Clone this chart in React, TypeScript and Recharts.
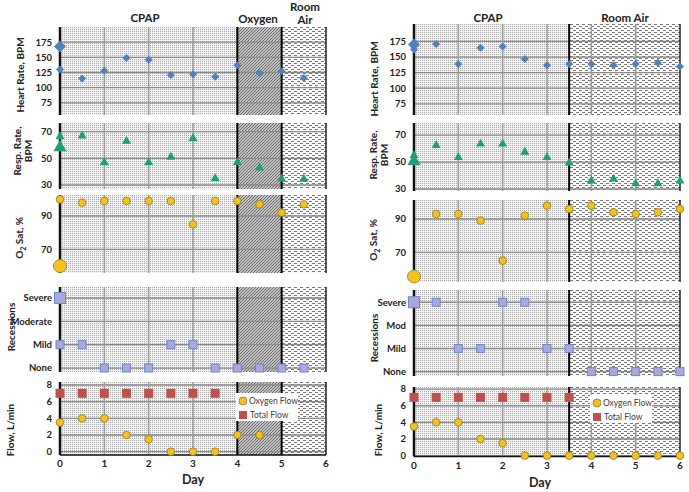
import React from "react";
import { ScatterChart, Scatter, XAxis, YAxis, ReferenceArea, ReferenceLine } from "recharts";

// days of observation
const DAYS_L = [0, 0.5, 1, 1.5, 2, 2.5, 3, 3.5, 4, 4.5, 5, 5.5];
const DAYS_R = [0, 0.5, 1, 1.5, 2, 2.5, 3, 3.5, 4, 4.5, 5, 5.5, 6];
const X_TICKS = [0, 1, 2, 3, 4, 5, 6];

// left patient
const HR_L = [130, 115, 128, 149, 146, 121, 122, 118, 137, 124, 127, 116];
const RR_L = [67, 67.5, 47.5, 63.5, 47.5, 51.5, 65.5, 35.5, 47.5, 43.5, 35, 35];
const O2_L = [100, 98, 99, 99, 99, 99, 85, 99, 99, 97, 92, 97];
const REC_L = [1, 1, 0, 0, 0, 1, 1, 0, 0, 0, 0, 0];
const O2FLOW_L = [3.5, 4, 4, 2, 1.5, 0, 0, 0, 2, 2];
const TOTAL_L = [7, 7, 7, 7, 7, 7, 7, 7];
// first (admission) readings, drawn larger
const HR0_L = [168];
const RR0_L = [59];
const O20_L = [60];
const REC0_L = [3];

// right patient
const HR_R = [162, 171, 139, 165, 167, 147, 137, 139, 139, 137, 139, 141, 135];
const RR_R = [55.5, 63, 54, 64, 64, 58, 54, 50, 36.5, 38, 34.5, 34.5, 36.5];
const O2_DAYS_R = DAYS_R.slice(1);
const O2_R = [93, 93, 89, 65, 92, 98, 96, 98, 94, 93, 94, 96];
const REC_R = [3, 3, 1, 1, 3, 3, 1, 1, 0, 0, 0, 0, 0];
const O2FLOW_R = [3.5, 4, 4, 2, 1.5, 0, 0, 0, 0, 0, 0, 0, 0];
const TOTAL_R = [7, 7, 7, 7, 7, 7, 7, 7];
const HR0_R = [170];
const RR0_R = [51.5];
const O20_R = [55.5];
const REC0_R = [3];

const REC_LABELS_L = ["None", "Mild", "Moderate", "Severe"];
const REC_LABELS_R = ["None", "Mild", "Mod", "Severe"];

// treatment phases: [from, to, pattern]
const PHASES_L: [number, number, string][] = [[0, 4, "cpapFill"], [4, 5, "oxyFill"], [5, 6, "airFill"]];
const PHASES_R: [number, number, string][] = [[0, 3.5, "cpapFill"], [3.5, 6, "airFill"]];
const BOUNDS_L = [4, 5];
const BOUNDS_R = [3.5];
const VGRID_L = [1, 2, 3];
const VGRID_R = [1, 2, 3, 4, 5];

const pts = (days: number[], vals: number[]) => vals.map((v, i) => ({ day: days[i], v }));

const FONT = "Lato, 'Open Sans', sans-serif";
const YW = 60;
const PW = 266;
const MT = 8;
const MR = 8;

const BLUE = "#4f81bd";
const GREEN = "#1f9e78";
const GOLD = "#f5c21b";
const LAV = "#a9a9de";
const RED = "#c0504d";

const diamond = (r: number) => (p: any) => (
  <polygon
    points={`${p.cx},${p.cy - r} ${p.cx + r},${p.cy} ${p.cx},${p.cy + r} ${p.cx - r},${p.cy}`}
    fill={BLUE}
  />
);
const triangle = (r: number) => (p: any) => (
  <polygon
    points={`${p.cx},${p.cy - r} ${p.cx + r},${p.cy + r * 0.75} ${p.cx - r},${p.cy + r * 0.75}`}
    fill={GREEN}
  />
);
const dot = (r: number) => (p: any) => (
  <circle cx={p.cx} cy={p.cy} r={r} fill={GOLD} stroke="#8a7a3a" strokeWidth={0.8} />
);
const lavSquare = (r: number) => (p: any) => (
  <rect x={p.cx - r} y={p.cy - r} width={2 * r} height={2 * r} fill={LAV} stroke="#6f86c9" strokeWidth={1} />
);
const redSquare = (r: number) => (p: any) => (
  <rect x={p.cx - r} y={p.cy - r} width={2 * r} height={2 * r} fill={RED} />
);

const tickStyle = { fontSize: 9.5, fontWeight: 700, fill: "#222", fontFamily: FONT };

function Row({
  pl,
  top,
  bottom,
  domain,
  ticks,
  fmt,
  phases,
  bounds,
  vgrid,
  showX,
  children,
}: {
  pl: number;
  top: number;
  bottom: number;
  domain: [number, number];
  ticks: number[];
  fmt?: (v: number) => string;
  phases: [number, number, string][];
  bounds: number[];
  vgrid: number[];
  showX?: boolean;
  children: React.ReactNode;
}) {
  const ph = bottom - top;
  const MB = showX ? 0 : 8;
  const XH = showX ? 26 : 0;
  return (
    <div style={{ position: "absolute", left: pl - YW, top: top - MT }}>
      <ScatterChart
        width={YW + PW + MR}
        height={MT + ph + MB + XH}
        margin={{ top: MT, right: MR, bottom: MB, left: 0 }}
      >
        <XAxis
          type="number"
          dataKey="day"
          domain={[0, 6]}
          ticks={X_TICKS}
          hide={!showX}
          height={XH}
          axisLine={{ stroke: "#111", strokeWidth: 1.5 }}
          tickLine={false}
          tickSize={3}
          tickMargin={2}
          tick={{ ...tickStyle, fontSize: 10 }}
        />
        <YAxis
          type="number"
          dataKey="v"
          domain={domain}
          ticks={ticks}
          width={YW}
          axisLine={false}
          tickLine={false}
          tick={tickStyle}
          tickFormatter={fmt}
        />
        {phases.map(([a, b, id]) => (
          <ReferenceArea key={id} x1={a} x2={b} fill={`url(#${id})`} fillOpacity={1} stroke="none" />
        ))}
        {ticks.map((t) => (
          <ReferenceLine key={`h${t}`} y={t} stroke="#8a8a8a" strokeWidth={1.3} />
        ))}
        {vgrid.map((d) => (
          <ReferenceLine key={`v${d}`} x={d} stroke="#9a9a9a" strokeWidth={1.5} />
        ))}
        {bounds.map((d) => (
          <ReferenceLine key={`b${d}`} x={d} stroke="#000" strokeWidth={2} />
        ))}
        <ReferenceLine x={0} stroke="#111" strokeWidth={2.5} />
        <ReferenceLine x={6} stroke="#222" strokeWidth={1.5} />
        {children}
      </ScatterChart>
    </div>
  );
}

function VTitle({ x, y, children }: { x: number; y: number; children: React.ReactNode }) {
  return (
    <div
      style={{
        position: "absolute",
        left: x,
        top: y,
        transform: "translate(-50%, -50%) rotate(-90deg)",
        whiteSpace: "nowrap",
        textAlign: "center",
        fontSize: 10,
        lineHeight: "11px",
        fontWeight: 700,
        color: "#222",
      }}
    >
      {children}
    </div>
  );
}

function Text({ x, y, size, children }: { x: number; y: number; size: number; children: React.ReactNode }) {
  return (
    <div
      style={{
        position: "absolute",
        left: x,
        top: y,
        transform: "translate(-50%, -50%)",
        whiteSpace: "nowrap",
        textAlign: "center",
        fontSize: size,
        lineHeight: `${size + 1}px`,
        fontWeight: 700,
        color: "#222",
      }}
    >
      {children}
    </div>
  );
}

function FlowLegend({ x, y }: { x: number; y: number }) {
  const item = (marker: React.ReactNode, label: string) => (
    <div style={{ display: "flex", alignItems: "center", height: 14 }}>
      <svg width={10} height={10} style={{ marginRight: 2 }}>
        {marker}
      </svg>
      <span>{label}</span>
    </div>
  );
  return (
    <div
      style={{
        position: "absolute",
        left: x,
        top: y,
        width: 62,
        height: 28,
        padding: "1px 0 0 2px",
        boxSizing: "border-box",
        background: "#fff",
        fontSize: 8.5,
        color: "#404040",
        whiteSpace: "nowrap",
      }}
    >
      {item(<circle cx={5} cy={5} r={4} fill={GOLD} stroke="#8a7a3a" strokeWidth={0.8} />, "Oxygen Flow")}
      {item(<rect x={1} y={1} width={8} height={8} fill={RED} />, "Total Flow")}
    </div>
  );
}

export default function App() {
  return (
    <div
      style={{
        position: "absolute",
        left: 0,
        top: 0,
        width: 689,
        height: 492,
        background: "#fff",
        fontFamily: FONT,
        overflow: "hidden",
      }}
    >
      <svg width={0} height={0} style={{ position: "absolute" }}>
        <defs>
          <pattern id="cpapFill" patternUnits="userSpaceOnUse" width={2} height={2}>
            <rect width={2} height={2} fill="#f2f2f2" />
            <rect width={1} height={1} fill="#ababab" />
          </pattern>
          <pattern id="oxyFill" patternUnits="userSpaceOnUse" width={3} height={3}>
            <rect width={3} height={3} fill="#c0c0c0" />
            <path d="M0,3 L3,0 M-1,1 L1,-1 M2,4 L4,2" stroke="#666" strokeWidth={0.9} />
          </pattern>
          <pattern id="airFill" patternUnits="userSpaceOnUse" width={6} height={4}>
            <rect width={6} height={4} fill="#fafafa" />
            <rect x={0} y={0} width={3} height={1} fill="#777" />
            <rect x={3} y={2} width={3} height={1} fill="#777" />
          </pattern>
        </defs>
      </svg>

      {/* ---------- left patient ---------- */}
      <Text x={145} y={18} size={11.5}>CPAP</Text>
      <Text x={258} y={19} size={11.5}>Oxygen</Text>
      <Text x={305} y={13} size={11.5}>Room<br />Air</Text>

      <VTitle x={20} y={75}>Heart Rate, BPM</VTitle>
      <VTitle x={23} y={151}>Resp. Rate,<br />BPM</VTitle>
      <VTitle x={21} y={238}>O<sub style={{ fontSize: "0.7em" }}>2</sub> Sat, %</VTitle>
      <VTitle x={11} y={327}>Recessions</VTitle>
      <VTitle x={10} y={430}>Flow, L/min</VTitle>

      <Row pl={60} top={27} bottom={115} domain={[55, 200]} ticks={[75, 100, 125, 150, 175]}
        phases={PHASES_L} bounds={BOUNDS_L} vgrid={VGRID_L}>
        <Scatter data={pts(DAYS_L, HR_L)} shape={diamond(4)} isAnimationActive={false} />
        <Scatter data={pts([0], HR0_L)} shape={diamond(6)} isAnimationActive={false} />
      </Row>
      <Row pl={60} top={123} bottom={189} domain={[27, 76.5]} ticks={[30, 50, 70]}
        phases={PHASES_L} bounds={BOUNDS_L} vgrid={VGRID_L}>
        <Scatter data={pts(DAYS_L, RR_L)} shape={triangle(4.5)} isAnimationActive={false} />
        <Scatter data={pts([0], RR0_L)} shape={triangle(6.5)} isAnimationActive={false} />
      </Row>
      <Row pl={60} top={195} bottom={273} domain={[55.8, 102.6]} ticks={[70, 90]}
        phases={PHASES_L} bounds={BOUNDS_L} vgrid={VGRID_L}>
        <Scatter data={pts(DAYS_L, O2_L)} shape={dot(3.8)} isAnimationActive={false} />
        <Scatter data={pts([0], O20_L)} shape={dot(6.5)} isAnimationActive={false} />
      </Row>
      <Row pl={60} top={287} bottom={372} domain={[-0.17, 3.47]} ticks={[0, 1, 2, 3]}
        fmt={(v) => REC_LABELS_L[v] ?? ""} phases={PHASES_L} bounds={BOUNDS_L} vgrid={VGRID_L}>
        <Scatter data={pts(DAYS_L, REC_L)} shape={lavSquare(4)} isAnimationActive={false} />
        <Scatter data={pts([0], REC0_L)} shape={lavSquare(5.5)} isAnimationActive={false} />
      </Row>
      <Row pl={60} top={382} bottom={455} domain={[-0.4, 8.36]} ticks={[0, 2, 4, 6, 8]}
        phases={PHASES_L} bounds={BOUNDS_L} vgrid={VGRID_L} showX>
        <Scatter data={pts(DAYS_L, TOTAL_L)} shape={redSquare(4.5)} isAnimationActive={false} />
        <Scatter data={pts(DAYS_L, O2FLOW_L)} shape={dot(3.8)} isAnimationActive={false} />
      </Row>
      <FlowLegend x={236} y={393} />
      <Text x={193} y={480} size={12.5}>Day</Text>

      {/* ---------- right patient ---------- */}
      <Text x={488} y={18} size={11.5}>CPAP</Text>
      <Text x={625} y={18} size={11.5}>Room Air</Text>

      <VTitle x={374} y={79}>Heart Rate, BPM</VTitle>
      <VTitle x={379} y={155}>Resp. Rate,<br />BPM</VTitle>
      <VTitle x={375} y={240}>O<sub style={{ fontSize: "0.7em" }}>2</sub> Sat, %</VTitle>
      <VTitle x={374} y={338}>Recessions</VTitle>
      <VTitle x={378} y={430}>Flow, L/min</VTitle>

      <Row pl={414} top={24} bottom={115} domain={[57, 203]} ticks={[75, 100, 125, 150, 175]}
        phases={PHASES_R} bounds={BOUNDS_R} vgrid={VGRID_R}>
        <Scatter data={pts(DAYS_R, HR_R)} shape={diamond(4)} isAnimationActive={false} />
        <Scatter data={pts([0], HR0_R)} shape={diamond(6)} isAnimationActive={false} />
      </Row>
      <Row pl={414} top={123} bottom={191} domain={[28.5, 79]} ticks={[30, 50, 70]}
        phases={PHASES_R} bounds={BOUNDS_R} vgrid={VGRID_R}>
        <Scatter data={pts(DAYS_R, RR_R)} shape={triangle(4.5)} isAnimationActive={false} />
        <Scatter data={pts([0], RR0_R)} shape={triangle(6.5)} isAnimationActive={false} />
      </Row>
      <Row pl={414} top={200} bottom={282} domain={[52.2, 101.4]} ticks={[70, 90]}
        phases={PHASES_R} bounds={BOUNDS_R} vgrid={VGRID_R}>
        <Scatter data={pts(O2_DAYS_R, O2_R)} shape={dot(3.8)} isAnimationActive={false} />
        <Scatter data={pts([0], O20_R)} shape={dot(6.5)} isAnimationActive={false} />
      </Row>
      <Row pl={414} top={290} bottom={376} domain={[-0.19, 3.53]} ticks={[0, 1, 2, 3]}
        fmt={(v) => REC_LABELS_R[v] ?? ""} phases={PHASES_R} bounds={BOUNDS_R} vgrid={VGRID_R}>
        <Scatter data={pts(DAYS_R, REC_R)} shape={lavSquare(4)} isAnimationActive={false} />
        <Scatter data={pts([0], REC0_R)} shape={lavSquare(5.5)} isAnimationActive={false} />
      </Row>
      <Row pl={414} top={387} bottom={456.5} domain={[-0.1, 8.25]} ticks={[0, 2, 4, 6, 8]}
        phases={PHASES_R} bounds={BOUNDS_R} vgrid={VGRID_R} showX>
        <Scatter data={pts(DAYS_R, TOTAL_R)} shape={redSquare(4.5)} isAnimationActive={false} />
        <Scatter data={pts(DAYS_R, O2FLOW_R)} shape={dot(3.8)} isAnimationActive={false} />
      </Row>
      <FlowLegend x={590} y={395} />
      <Text x={540} y={483} size={12.5}>Day</Text>
    </div>
  );
}
